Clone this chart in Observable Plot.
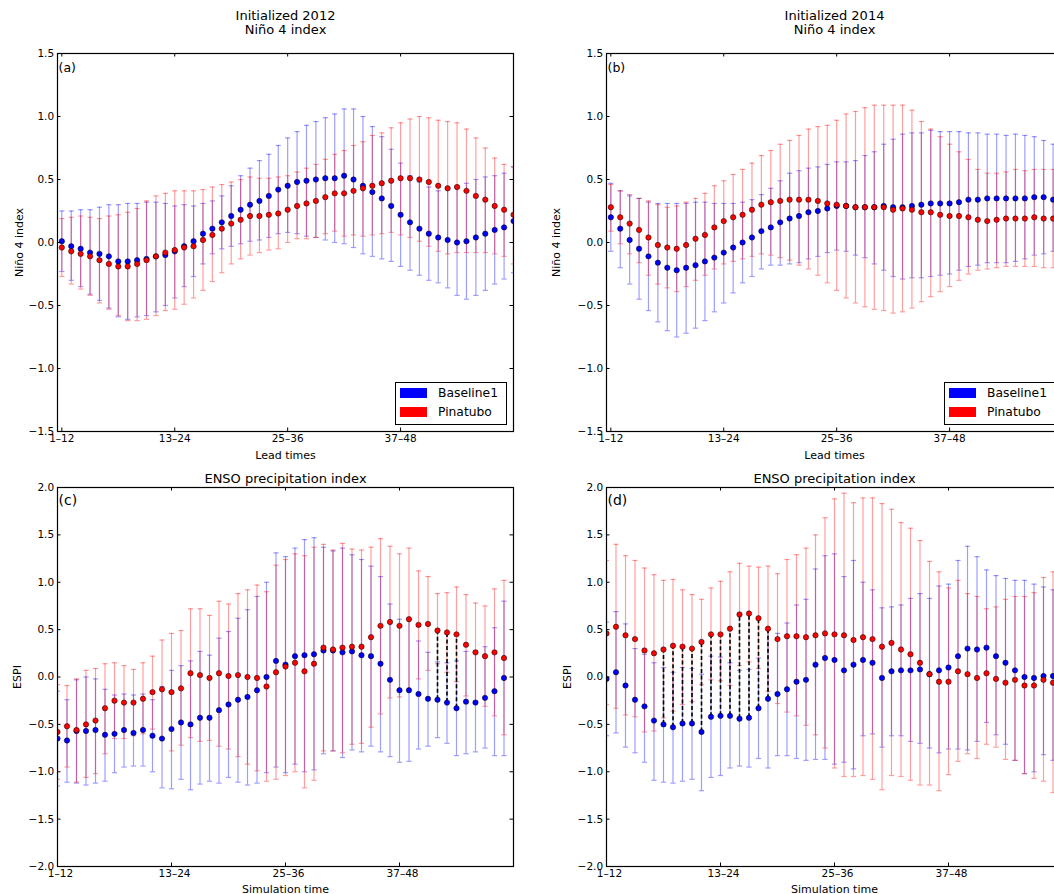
<!DOCTYPE html>
<html><head><meta charset="utf-8">
<script src="https://cdn.jsdelivr.net/npm/d3@7"></script>
<script src="https://cdn.jsdelivr.net/npm/@observablehq/plot@0.6"></script>
<style>
html,body{margin:0;padding:0;background:#fff;overflow:hidden;}
#root{position:relative;width:1054px;height:894px;overflow:hidden;font-family:"DejaVu Sans",sans-serif;background:#fff;}
.panel{position:absolute;}
.legend{position:absolute;box-sizing:border-box;border:1px solid #000;background:#fff;width:112px;height:43px;}
.sw{position:absolute;left:4px;width:27px;height:10px;}
.lt{position:absolute;left:42px;font-size:12.3px;line-height:12px;color:#000;white-space:nowrap;}
</style></head><body><div id="root"></div>
<script>
// ---------- shared ticks ----------
const xTicks = [1, 13, 25, 37];
const xTickLabels = ["1\u201312", "13\u201324", "25\u201336", "37\u201348"];
const yTicksNino = [-1.5, -1.0, -0.5, 0.0, 0.5, 1.0, 1.5];
const yTicksEspi = [-2.0, -1.5, -1.0, -0.5, 0.0, 0.5, 1.0, 1.5, 2.0];
const seriesNames = ["Baseline1", "Pinatubo"];

// ---------- panel (a): Initialized 2012, Niño 4 ----------
const aBaseMean = [0.01,-0.03,-0.05,-0.08,-0.09,-0.11,-0.15,-0.15,-0.14,-0.13,-0.11,-0.10,-0.07,-0.03,0.01,0.07,0.11,0.16,0.21,0.26,0.30,0.33,0.37,0.42,0.45,0.48,0.49,0.50,0.51,0.51,0.53,0.50,0.45,0.40,0.35,0.29,0.22,0.16,0.11,0.07,0.04,0.02,0.00,0.01,0.04,0.07,0.10,0.12,0.17];
const aBaseHi = [0.25,0.25,0.26,0.26,0.28,0.30,0.30,0.31,0.31,0.32,0.32,0.31,0.29,0.30,0.29,0.31,0.33,0.37,0.45,0.53,0.59,0.65,0.70,0.77,0.83,0.88,0.93,0.96,0.99,1.02,1.06,1.06,1.00,0.92,0.84,0.74,0.63,0.53,0.48,0.44,0.41,0.42,0.43,0.47,0.50,0.52,0.53,0.55,0.60];
const aBaseLo = [-0.23,-0.30,-0.35,-0.41,-0.46,-0.52,-0.59,-0.61,-0.59,-0.58,-0.55,-0.50,-0.44,-0.35,-0.27,-0.17,-0.09,-0.05,-0.03,-0.01,0.01,0.02,0.04,0.07,0.08,0.07,0.05,0.04,0.02,0.00,-0.01,-0.04,-0.09,-0.11,-0.13,-0.15,-0.19,-0.22,-0.26,-0.30,-0.32,-0.36,-0.42,-0.45,-0.42,-0.38,-0.33,-0.29,-0.24];
const aPinMean = [-0.04,-0.07,-0.09,-0.11,-0.14,-0.17,-0.19,-0.19,-0.17,-0.14,-0.11,-0.08,-0.06,-0.04,-0.03,0.02,0.06,0.11,0.15,0.18,0.21,0.21,0.22,0.23,0.26,0.29,0.31,0.33,0.36,0.39,0.39,0.41,0.43,0.45,0.47,0.49,0.51,0.51,0.50,0.48,0.45,0.43,0.44,0.41,0.37,0.34,0.29,0.26,0.22];
const aPinHi = [0.19,0.20,0.21,0.20,0.19,0.21,0.22,0.24,0.27,0.33,0.37,0.39,0.41,0.41,0.41,0.42,0.44,0.46,0.48,0.50,0.52,0.51,0.51,0.52,0.53,0.56,0.59,0.62,0.66,0.70,0.73,0.77,0.80,0.85,0.87,0.91,0.95,0.98,1.00,0.99,0.97,0.96,0.95,0.90,0.83,0.75,0.67,0.62,0.60];
const aPinLo = [-0.27,-0.33,-0.37,-0.42,-0.48,-0.53,-0.58,-0.62,-0.62,-0.61,-0.58,-0.54,-0.53,-0.49,-0.44,-0.38,-0.31,-0.24,-0.17,-0.13,-0.10,-0.08,-0.06,-0.05,0.00,0.03,0.03,0.04,0.07,0.09,0.05,0.06,0.05,0.06,0.07,0.08,0.06,0.04,0.01,-0.03,-0.07,-0.09,-0.08,-0.08,-0.08,-0.08,-0.09,-0.11,-0.17];
const aSig = [];

// ---------- panel (b): Initialized 2014, Niño 4 ----------
const bBaseMean = [0.20,0.11,0.02,-0.05,-0.11,-0.16,-0.20,-0.22,-0.20,-0.18,-0.15,-0.12,-0.08,-0.04,0.00,0.04,0.09,0.12,0.16,0.19,0.21,0.24,0.25,0.27,0.29,0.29,0.28,0.28,0.28,0.29,0.28,0.28,0.29,0.30,0.31,0.31,0.31,0.32,0.34,0.34,0.35,0.35,0.35,0.35,0.35,0.36,0.36,0.34];
const bBaseHi = [0.47,0.41,0.37,0.35,0.32,0.31,0.31,0.31,0.31,0.32,0.32,0.31,0.31,0.31,0.32,0.34,0.38,0.43,0.49,0.55,0.57,0.59,0.60,0.62,0.64,0.64,0.65,0.69,0.72,0.78,0.82,0.86,0.87,0.87,0.89,0.88,0.88,0.88,0.87,0.87,0.86,0.86,0.85,0.86,0.85,0.84,0.81,0.78];
const bBaseLo = [-0.07,-0.20,-0.33,-0.45,-0.54,-0.63,-0.70,-0.75,-0.72,-0.68,-0.62,-0.55,-0.48,-0.40,-0.32,-0.27,-0.21,-0.18,-0.18,-0.17,-0.16,-0.13,-0.11,-0.08,-0.06,-0.07,-0.10,-0.12,-0.17,-0.22,-0.27,-0.29,-0.28,-0.28,-0.27,-0.26,-0.25,-0.22,-0.19,-0.18,-0.16,-0.16,-0.16,-0.15,-0.13,-0.10,-0.09,-0.07];
const bPinMean = [0.28,0.20,0.15,0.10,0.04,-0.02,-0.04,-0.05,-0.02,0.03,0.06,0.12,0.17,0.20,0.22,0.26,0.30,0.32,0.33,0.34,0.34,0.34,0.33,0.31,0.30,0.29,0.28,0.28,0.28,0.28,0.26,0.27,0.26,0.24,0.24,0.22,0.21,0.21,0.20,0.18,0.17,0.18,0.19,0.19,0.19,0.20,0.19,0.19];
const bPinHi = [0.46,0.41,0.38,0.35,0.33,0.30,0.28,0.29,0.32,0.35,0.39,0.45,0.49,0.54,0.58,0.63,0.69,0.73,0.78,0.81,0.85,0.90,0.92,0.93,0.97,1.02,1.04,1.07,1.09,1.09,1.09,1.09,1.05,0.96,0.90,0.84,0.78,0.72,0.66,0.58,0.55,0.55,0.56,0.58,0.57,0.58,0.58,0.58];
const bPinLo = [0.09,-0.01,-0.09,-0.16,-0.26,-0.33,-0.36,-0.39,-0.35,-0.30,-0.26,-0.21,-0.17,-0.15,-0.13,-0.11,-0.09,-0.10,-0.12,-0.14,-0.18,-0.21,-0.26,-0.32,-0.38,-0.44,-0.48,-0.51,-0.53,-0.54,-0.56,-0.55,-0.52,-0.47,-0.43,-0.39,-0.35,-0.30,-0.25,-0.22,-0.21,-0.20,-0.19,-0.19,-0.19,-0.19,-0.20,-0.20];
const bSig = [];

// ---------- panel (c): ENSO precipitation index, 2012 ----------
const cBaseMean = [-0.65,-0.67,-0.57,-0.57,-0.56,-0.61,-0.60,-0.56,-0.59,-0.56,-0.62,-0.65,-0.55,-0.48,-0.50,-0.43,-0.43,-0.35,-0.29,-0.24,-0.21,-0.14,0.00,0.17,0.13,0.22,0.23,0.24,0.28,0.28,0.26,0.27,0.23,0.22,0.14,-0.03,-0.14,-0.14,-0.18,-0.23,-0.24,-0.27,-0.33,-0.26,-0.27,-0.22,-0.15,-0.01];
const cBaseHi = [-0.15,-0.24,-0.03,0.00,-0.02,-0.13,-0.19,-0.18,-0.19,-0.18,-0.24,-0.10,0.07,0.12,0.17,0.27,0.23,0.41,0.48,0.62,0.71,0.85,1.00,1.31,1.27,1.36,1.45,1.47,1.37,1.33,1.36,1.29,1.24,1.17,1.06,0.77,0.61,0.61,0.38,0.26,0.16,0.15,0.17,0.27,0.28,0.32,0.52,0.80];
const cBaseLo = [-1.15,-1.11,-1.12,-1.14,-1.12,-1.10,-1.01,-0.95,-0.94,-0.94,-1.00,-1.17,-1.18,-1.08,-1.19,-1.13,-1.10,-1.12,-1.06,-1.11,-1.14,-1.12,-1.01,-0.95,-1.01,-0.92,-1.00,-0.98,-0.81,-0.78,-0.85,-0.77,-0.79,-0.73,-0.79,-0.84,-0.90,-0.89,-0.76,-0.73,-0.64,-0.70,-0.83,-0.81,-0.79,-0.75,-0.83,-0.83];
const cPinMean = [-0.58,-0.52,-0.56,-0.50,-0.46,-0.33,-0.25,-0.27,-0.27,-0.23,-0.16,-0.13,-0.16,-0.12,0.04,0.02,-0.01,0.04,0.01,0.02,0.00,-0.01,-0.10,0.05,0.11,0.15,0.06,0.14,0.31,0.29,0.31,0.32,0.32,0.42,0.54,0.58,0.54,0.61,0.55,0.56,0.49,0.47,0.45,0.34,0.26,0.22,0.26,0.20];
const cPinHi = [-0.08,-0.09,-0.02,0.07,0.09,0.14,0.15,0.12,0.08,0.15,0.22,0.39,0.46,0.49,0.72,0.72,0.65,0.80,0.77,0.88,0.92,0.97,0.90,1.18,1.24,1.30,1.28,1.37,1.40,1.34,1.41,1.35,1.34,1.37,1.46,1.38,1.30,1.36,1.12,1.06,0.88,0.89,0.95,0.87,0.78,0.75,0.93,1.02];
const cPinLo = [-1.08,-0.95,-1.11,-1.06,-1.02,-0.81,-0.65,-0.65,-0.62,-0.60,-0.55,-0.65,-0.78,-0.72,-0.64,-0.68,-0.67,-0.73,-0.76,-0.84,-0.92,-0.99,-1.10,-1.08,-1.04,-1.00,-1.17,-1.09,-0.78,-0.78,-0.80,-0.71,-0.70,-0.53,-0.39,-0.22,-0.21,-0.14,-0.02,0.07,0.14,0.05,-0.05,-0.20,-0.25,-0.31,-0.41,-0.61];
const cSig = [41, 42, 43];

// ---------- panel (d): ENSO precipitation index, 2014 ----------
const dBaseMean = [-0.02,0.05,-0.09,-0.24,-0.31,-0.46,-0.50,-0.53,-0.49,-0.49,-0.58,-0.42,-0.41,-0.41,-0.44,-0.43,-0.33,-0.23,-0.18,-0.13,-0.05,-0.03,0.13,0.20,0.18,0.07,0.13,0.18,0.15,-0.01,0.06,0.07,0.07,0.08,0.03,0.07,0.10,0.22,0.30,0.29,0.31,0.22,0.15,0.07,0.00,-0.01,0.01,0.01];
const dBaseHi = [0.58,0.69,0.56,0.30,0.24,0.15,0.10,0.05,0.10,0.09,0.03,0.22,0.21,0.15,0.07,0.08,0.20,0.50,0.46,0.57,0.76,0.82,1.14,1.28,1.30,1.06,1.23,1.00,0.92,0.73,0.74,0.76,0.83,0.88,0.83,0.96,0.98,1.23,1.38,1.27,1.13,1.07,1.04,1.02,1.02,0.98,0.95,0.92];
const dBaseLo = [-0.62,-0.59,-0.74,-0.80,-0.90,-1.09,-1.11,-1.12,-1.10,-1.08,-1.20,-1.06,-1.04,-0.96,-0.94,-0.95,-0.86,-0.96,-0.83,-0.83,-0.86,-0.88,-0.87,-0.87,-0.92,-0.90,-0.97,-0.62,-0.60,-0.74,-0.62,-0.62,-0.68,-0.70,-0.75,-0.80,-0.76,-0.76,-0.77,-0.68,-0.48,-0.61,-0.71,-0.88,-1.02,-1.00,-0.82,-0.88];
const dPinMean = [0.46,0.53,0.44,0.40,0.28,0.25,0.29,0.33,0.32,0.30,0.37,0.45,0.45,0.51,0.66,0.67,0.62,0.51,0.40,0.43,0.43,0.42,0.44,0.46,0.45,0.44,0.39,0.42,0.40,0.32,0.36,0.29,0.24,0.15,0.03,-0.05,-0.05,0.06,0.03,-0.01,0.04,-0.02,-0.06,-0.03,-0.09,-0.09,-0.03,-0.06];
const dPinHi = [1.23,1.40,1.28,1.23,1.15,1.08,1.02,1.03,0.92,0.87,0.82,0.94,1.01,1.11,1.20,1.17,1.16,1.17,1.09,1.24,1.29,1.36,1.50,1.68,1.88,1.94,1.84,1.89,1.89,1.83,1.77,1.63,1.57,1.44,1.22,1.11,0.94,1.02,0.88,0.85,0.72,0.74,0.82,0.85,0.85,0.89,1.05,1.11];
const dPinLo = [-0.29,-0.33,-0.40,-0.42,-0.58,-0.57,-0.43,-0.36,-0.29,-0.26,-0.08,-0.03,-0.04,-0.09,0.12,0.16,0.09,-0.15,-0.28,-0.37,-0.41,-0.51,-0.61,-0.75,-0.96,-1.05,-1.05,-1.04,-1.08,-1.19,-1.04,-1.05,-1.09,-1.14,-1.14,-1.20,-1.03,-0.89,-0.81,-0.86,-0.71,-0.74,-0.87,-0.88,-1.02,-1.07,-1.10,-1.22];
const dSig = [7, 8, 9, 10, 11, 12, 13, 14, 15, 16, 17, 18];

// ---------- drawing ----------
const BLUE = "#0000ff", RED = "#ff0000";
const capSymbol = {draw(ctx, size) { const r = Math.sqrt(size / Math.PI); ctx.moveTo(-r, 0); ctx.lineTo(r, 0); }};
const yFmt = d3.format(".1f");
const xLab = new Map(xTicks.map((t, i) => [t, xTickLabels[i]]));

function rows(mean, lo, hi) {
  return mean.map((m, i) => ({x: i + 1, m, lo: lo[i], hi: hi[i]}));
}

function errMarks(data, color) {
  const op = 0.38;
  return [
    Plot.ruleX(data, {x: "x", y1: "lo", y2: "hi", stroke: color, strokeOpacity: op, strokeWidth: 1.2, clip: true}),
    Plot.dot(data, {x: "x", y: "hi", symbol: capSymbol, r: 2.6, fill: "none", stroke: color, strokeOpacity: op, strokeWidth: 1.2, clip: true}),
    Plot.dot(data, {x: "x", y: "lo", symbol: capSymbol, r: 2.6, fill: "none", stroke: color, strokeOpacity: op, strokeWidth: 1.2, clip: true})
  ];
}

function panel(cfg) {
  const W = 530, ml = 57, mr = 17;
  const fw = W - ml - mr, fh = cfg.height - cfg.mt - cfg.mb;
  const B = rows(cfg.bm, cfg.bl, cfg.bh);
  const P = rows(cfg.pm, cfg.pl, cfg.ph);
  const S = cfg.sig.map(x => ({x, b: cfg.bm[x - 1], p: cfg.pm[x - 1]}));
  const marks = [
    ...errMarks(B, BLUE),
    ...errMarks(P, RED),
    Plot.ruleX(S, {x: "x", y1: "b", y2: "p", stroke: "#000", strokeWidth: 1.6, strokeDasharray: "4,2.5", clip: true}),
    Plot.dot(B, {x: "x", y: "m", r: 2.7, fill: BLUE, stroke: "#000", strokeWidth: 0.5, clip: true}),
    Plot.dot(P, {x: "x", y: "m", r: 2.7, fill: RED, stroke: "#000", strokeWidth: 0.5, clip: true}),
    // inward ticks on all four sides
    Plot.tickY(cfg.yTicks, {y: d => d, insetRight: fw - 3.5, stroke: "#000"}),
    Plot.tickY(cfg.yTicks, {y: d => d, insetLeft: fw - 3.5, stroke: "#000"}),
    Plot.tickX(xTicks, {x: d => d, insetTop: fh - 3.5, stroke: "#000"}),
    Plot.tickX(xTicks, {x: d => d, insetBottom: fh - 3.5, stroke: "#000"}),
    Plot.axisY({ticks: cfg.yTicks, tickSize: 0, tickPadding: 3.4, tickFormat: yFmt, fontSize: 10.5, label: null}),
    Plot.axisX({ticks: xTicks, tickSize: 0, tickPadding: 3, tickFormat: d => xLab.get(d), fontSize: 10.5, dx: cfg.xLabDx, label: null}),
    Plot.frame({stroke: "#000", strokeWidth: 1.2}),
    Plot.text([cfg.tag], {text: d => d, frameAnchor: "top-left", textAnchor: "start", lineAnchor: "top", dx: 1, dy: cfg.tagDy, fontSize: cfg.tagSize}),
    Plot.text([cfg.yLabel], {text: d => d, frameAnchor: "left", rotate: -90, textAnchor: "middle", lineAnchor: "middle", dx: cfg.yLabDx, fontSize: 11}),
    Plot.text([cfg.xLabel], {text: d => d, frameAnchor: "bottom", lineAnchor: "bottom", dy: cfg.xLabDy, fontSize: 11})
  ];
  cfg.titles.forEach(([t, dy]) => marks.push(Plot.text([t], {text: d => d, frameAnchor: "top", lineAnchor: "bottom", dy, fontSize: 13})));
  return Plot.plot({
    width: W, height: cfg.height,
    marginLeft: ml, marginRight: mr, marginTop: cfg.mt, marginBottom: cfg.mb,
    x: {domain: cfg.xDomain, axis: null, label: null},
    y: {domain: cfg.yDomain, axis: null, label: null},
    style: {fontFamily: "DejaVu Sans", fontSize: "10.5px", color: "#000", background: "transparent", overflow: "visible"},
    marks
  });
}

const root = document.getElementById("root");
function place(node, left, top) {
  node.classList.add("panel");
  node.style.left = left + "px";
  node.style.top = top + "px";
  root.appendChild(node);
}
function legend(left, top) {
  const div = document.createElement("div");
  div.className = "legend";
  div.style.left = left + "px";
  div.style.top = top + "px";
  const colors = [BLUE, RED];
  seriesNames.forEach((name, i) => {
    const sw = document.createElement("div");
    sw.className = "sw";
    sw.style.top = (5 + i * 19) + "px";
    sw.style.background = colors[i];
    div.appendChild(sw);
    const t = document.createElement("div");
    t.className = "lt";
    t.style.top = (4.2 + i * 19) + "px";
    t.textContent = name;
    div.appendChild(t);
  });
  root.appendChild(div);
}

const topCommon = {height: 462, mt: 53, mb: 31, xDomain: [0.54, 49], yDomain: [-1.5, 1.5], yTicks: yTicksNino,
  xLabel: "Lead times", xLabDy: 27, xLabDx: 0, yLabel: "Ni\u00f1o 4 index", tagSize: 12.5, tagDy: 10, sig: []};
const botCommon = {height: 432, mt: 25, mb: 28, xDomain: [1, 49], yDomain: [-2, 2], yTicks: yTicksEspi,
  xLabel: "Simulation time", xLabDy: 26, xLabDx: 3, yLabel: "ESPI", tagSize: 14, tagDy: 8,
  titles: [["ENSO precipitation index", -5]]};

place(panel({...topCommon, tag: "(a)", yLabDx: -38,
  titles: [["Initialized 2012", -33.7], ["Ni\u00f1o 4 index", -19.7]],
  bm: aBaseMean, bl: aBaseLo, bh: aBaseHi, pm: aPinMean, pl: aPinLo, ph: aPinHi, sig: aSig}), 0, 0);
place(panel({...topCommon, tag: "(b)", yLabDx: -50,
  titles: [["Initialized 2014", -33.7], ["Ni\u00f1o 4 index", -19.7]],
  bm: bBaseMean, bl: bBaseLo, bh: bBaseHi, pm: bPinMean, pl: bPinLo, ph: bPinHi, sig: bSig}), 549, 0);
place(panel({...botCommon, tag: "(c)", yLabDx: -40,
  bm: cBaseMean, bl: cBaseLo, bh: cBaseHi, pm: cPinMean, pl: cPinLo, ph: cPinHi, sig: cSig}), 0, 462);
place(panel({...botCommon, tag: "(d)", yLabDx: -39.5,
  bm: dBaseMean, bl: dBaseLo, bh: dBaseHi, pm: dPinMean, pl: dPinLo, ph: dPinHi, sig: dSig}), 549, 462);
legend(395, 382);
legend(944, 382);
</script></body></html>
